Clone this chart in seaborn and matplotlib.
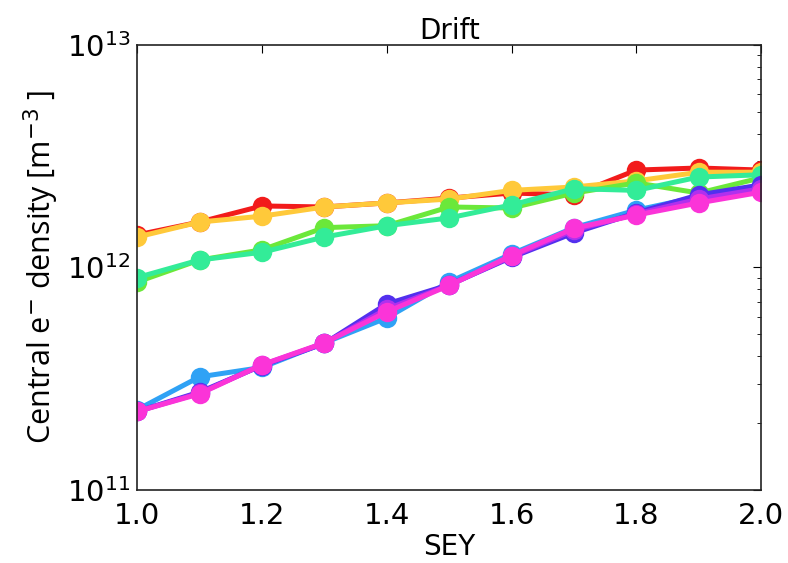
import numpy as np
import pandas as pd
import matplotlib
matplotlib.use("Agg")
import matplotlib.pyplot as plt
import seaborn as sns
from matplotlib.ticker import LogLocator, FixedLocator

# Secondary emission yield scan
sey = [1.0, 1.1, 1.2, 1.3, 1.4, 1.5, 1.6, 1.7, 1.8, 1.9, 2.0]

# Central electron density [m^-3] for each scenario
dens_a = [1.40e12, 1.60e12, 1.89e12, 1.87e12, 1.95e12, 2.05e12, 2.16e12, 2.12e12, 2.74e12, 2.80e12, 2.74e12]
dens_b = [1.37e12, 1.60e12, 1.70e12, 1.87e12, 1.95e12, 2.03e12, 2.22e12, 2.30e12, 2.45e12, 2.68e12, 2.68e12]
dens_c = [0.86e12, 1.08e12, 1.20e12, 1.51e12, 1.54e12, 1.87e12, 1.85e12, 2.16e12, 2.40e12, 2.16e12, 2.53e12]
dens_d = [0.90e12, 1.08e12, 1.17e12, 1.37e12, 1.54e12, 1.67e12, 1.91e12, 2.26e12, 2.22e12, 2.55e12, 2.61e12]
dens_e = [2.29e11, 3.22e11, 3.55e11, 4.58e11, 5.93e11, 8.60e11, 1.15e12, 1.51e12, 1.81e12, 2.08e12, 2.28e12]
dens_f = [2.25e11, 2.75e11, 3.62e11, 4.55e11, 6.85e11, 8.35e11, 1.11e12, 1.43e12, 1.76e12, 2.12e12, 2.35e12]
dens_g = [2.25e11, 2.72e11, 3.64e11, 4.56e11, 6.50e11, 8.32e11, 1.12e12, 1.47e12, 1.74e12, 2.03e12, 2.26e12]
dens_h = [2.25e11, 2.70e11, 3.65e11, 4.58e11, 6.31e11, 8.30e11, 1.13e12, 1.50e12, 1.72e12, 1.95e12, 2.18e12]

series = ["a", "b", "c", "d", "e", "f", "g", "h"]
values = [dens_a, dens_b, dens_c, dens_d, dens_e, dens_f, dens_g, dens_h]
colors = ["#f21b1b", "#ffc93a", "#6be83a", "#33ec98", "#2fa2f5", "#5230ee", "#b030ee", "#fb34d8"]

df = pd.DataFrame({
    "SEY": np.tile(sey, len(series)),
    "density": np.concatenate(values),
    "case": np.repeat(series, len(sey)),
})

sns.set_style("white")
plt.rcParams.update({
    "font.family": ["DejaVu Sans"],
    "text.color": "black",
    "axes.labelcolor": "black",
    "xtick.color": "black",
    "ytick.color": "black",
    "xtick.direction": "in",
    "ytick.direction": "in",
    "xtick.top": True,
    "ytick.right": True,
})

fig = plt.figure(figsize=(7.88, 5.63), dpi=100)
ax = fig.add_axes([0.174, 0.130, 0.792, 0.790])

sns.lineplot(
    data=df, x="SEY", y="density", hue="case", palette=colors,
    marker="o", markersize=14, markeredgewidth=0, linewidth=3.6,
    legend=False, ax=ax,
)

ax.set_yscale("log")
ax.set_xlim(1.0, 2.0)
ax.set_ylim(1e11, 1e13)
ax.xaxis.set_major_locator(FixedLocator([1.0, 1.2, 1.4, 1.6, 1.8, 2.0]))
ax.set_xticklabels(["1.0", "1.2", "1.4", "1.6", "1.8", "2.0"])
ax.yaxis.set_major_locator(LogLocator(base=10, numticks=5))
ax.yaxis.set_minor_locator(LogLocator(base=10, subs=np.arange(2, 10), numticks=20))

ax.tick_params(axis="both", which="major", labelsize=21, length=6, width=0.8, pad=5)
ax.tick_params(axis="x", which="major", pad=9)
ax.tick_params(axis="y", which="minor", length=3, width=0.6)
for s in ax.spines.values():
    s.set_linewidth(1.2)
    s.set_color("#222222")

ax.set_title("Drift", fontsize=20, pad=4)
ax.set_xlabel("SEY", fontsize=20, labelpad=2)
ax.set_ylabel(r"Central e$^{-}$ density [m$^{-3}$ ]", fontsize=22,
              family=["Open Sans", "DejaVu Sans"], labelpad=4)

fig.savefig("out.png", dpi=100)
